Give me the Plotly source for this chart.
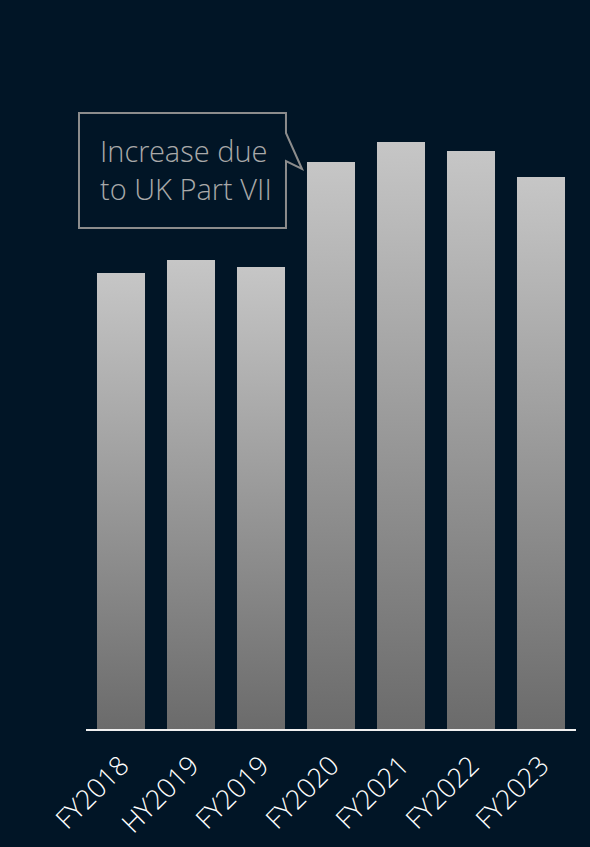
import plotly.graph_objects as go

# Reporting periods and bar heights
periods = ["FY2018", "HY2019", "FY2019", "FY2020", "FY2021", "FY2022", "FY2023"]
values = [45.6, 46.9, 46.2, 56.7, 58.7, 57.8, 55.2]
callout_text = "Increase due<br>to UK Part VII"

W, H = 590, 847
BG = "#011526"
BAR_HALF = 0.343
LIGHT_FONT = "Open Sans Light, Open Sans"


def px(x, y):
    """Window pixel -> paper coordinates."""
    return x / W, 1 - y / H


fig = go.Figure()

# Each bar is a filled rectangle so it can carry a vertical gradient
for i, v in enumerate(values):
    fig.add_trace(go.Scatter(
        x=[i - BAR_HALF, i + BAR_HALF, i + BAR_HALF, i - BAR_HALF, i - BAR_HALF],
        y=[0, 0, v, v, 0],
        mode="lines",
        line=dict(width=0),
        fill="toself",
        fillgradient=dict(type="vertical",
                          colorscale=[[0, "#6b6b6b"], [1, "#c6c6c6"]]),
        hoverinfo="skip",
        showlegend=False,
    ))

# Speech-bubble callout
pts = [(79, 113), (286, 113), (286, 133), (302, 169), (286, 161), (286, 228), (79, 228)]
path = "M " + " L ".join(f"{px(x, y)[0]:.4f},{px(x, y)[1]:.4f}" for x, y in pts) + " Z"

fig.update_layout(
    width=W, height=H,
    margin=dict(l=0, r=0, t=0, b=0, autoexpand=False),
    paper_bgcolor=BG,
    plot_bgcolor="rgba(0,0,0,0)",
    font=dict(family=LIGHT_FONT, color="#ffffff"),
    xaxis=dict(
        domain=[86 / W, 576 / W],
        range=[-0.5, len(periods) - 0.5],
        tickmode="array",
        tickvals=list(range(len(periods))),
        ticktext=periods,
        tickangle=-45,
        tickfont=dict(family=LIGHT_FONT, size=27, color="#ffffff", weight=300),
        ticklabelstandoff=8,
        automargin=False,
        showgrid=False, zeroline=False,
        showline=True, linecolor="#f0f0f0", linewidth=2,
        ticks="",
        fixedrange=True,
    ),
    yaxis=dict(
        domain=[1 - 729 / H, 1 - 30 / H],
        range=[0, 69.9],
        visible=False,
        automargin=False,
        fixedrange=True,
    ),
    shapes=[dict(
        type="path", xref="paper", yref="paper", path=path,
        line=dict(color="#8c8c8c", width=2), fillcolor=BG, layer="above",
    )],
    annotations=[dict(
        xref="paper", yref="paper",
        x=px(98, 0)[0], y=px(0, 170)[1],
        xanchor="left", yanchor="middle", align="left",
        text=callout_text, showarrow=False,
        font=dict(family=LIGHT_FONT, size=29, color="#a9a9a9", weight=300),
    )],
)

fig.write_html("out.html")
